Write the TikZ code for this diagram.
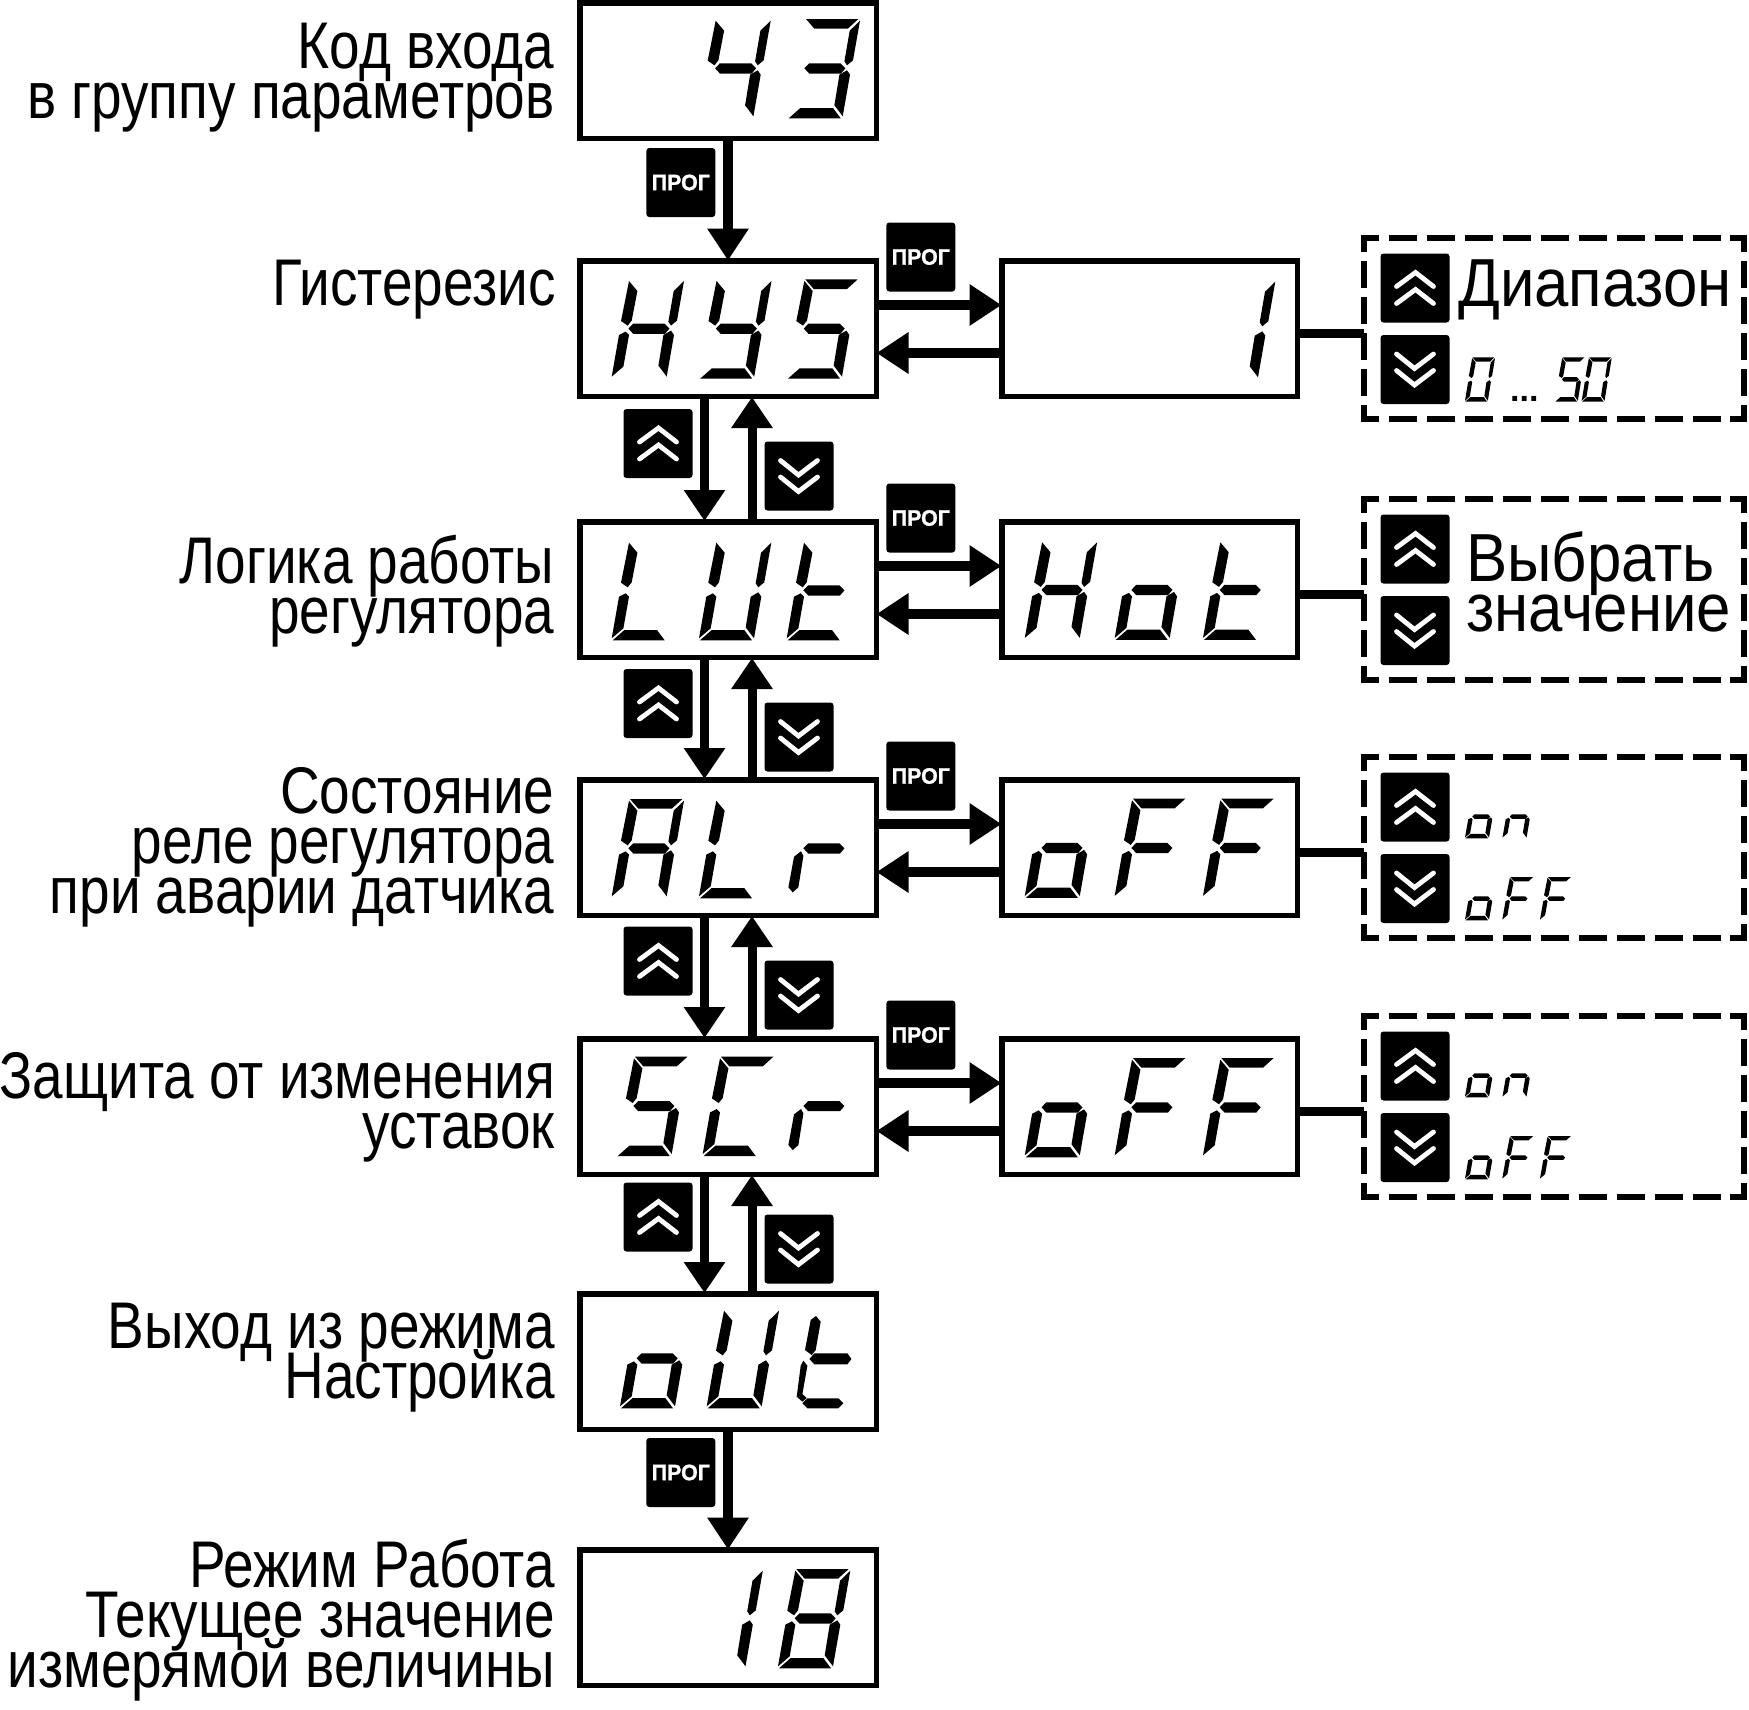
\documentclass[tikz,border=0pt]{standalone}
\usepackage{fontspec}
\usetikzlibrary{arrows.meta,calc}
\setmainfont{Liberation Sans}
\newfontfamily\labf[FakeStretch=0.832]{Liberation Sans}
\newfontfamily\rlabf[FakeStretch=0.908]{Liberation Sans}
\newfontfamily\progf[FakeStretch=0.96,FakeBold=1.2]{Liberation Sans Bold}
\newcommand\labfont{\labf\fontsize{66}{50}\selectfont}
\newcommand\rlabfont{\rlabf\fontsize{68}{50.6}\selectfont}
\lineskiplimit=-200pt
\normallineskiplimit=-200pt
% seven-segment shapes, local units: glyph cell about 72 x 99
\newcommand\segA{\fill (18.3,0)--(70.7,0)--(60,9.7)--(26.7,9.7)--cycle;}
\newcommand\segB{\fill (72.3,1.7)--(62,11.7)--(56.7,42.3)--(59.3,46.3)--(65.3,41.3)--cycle;}
\newcommand\segC{\fill (59.3,51.3)--(62.3,55.7)--(55,97.3)--(46.7,86.3)--(51.7,55.7)--cycle;}
\newcommand\segD{\fill (1,99.3)--(12.7,89)--(45.3,89)--(53,99.3)--cycle;}
\newcommand\segE{\fill (14,52.3)--(17.3,55.7)--(11.7,87.3)--(0,97.3)--(7.3,55.7)--cycle;}
\newcommand\segF{\fill (17.3,1.7)--(25.7,11.7)--(20,41.3)--(16,46.3)--(9.3,41.7)--cycle;}
\newcommand\segG{\fill (16.7,49.3)--(21.5,44.3)--(52.7,44.3)--(57.7,49.3)--(53.3,54.5)--(21.5,54.5)--cycle;}
% chamfered forms used by r and by the t of oUt
\newcommand\segEr{\fill (14.3,52.3)--(16.7,56.7)--(11.7,88.3)--(6,93.3)--(1.7,88.3)--(7.3,57.7)--cycle;}
\newcommand\segFt{\fill (19.3,7)--(24,12.7)--(19,41)--(15,46)--(8.3,41)--(14,11)--cycle;}
\newcommand\segGt{\fill (12.7,50)--(17.7,44.3)--(50.7,44.3)--(54.7,50)--(50.7,55.3)--(17.7,55.3)--cycle;}
\newcommand\segEt{\fill (6.7,51.7)--(10.7,56.7)--(5.7,85)--(10,89)--(5.7,92.7)--(0,87.7)--(4,56.7)--cycle;}
\newcommand\segDt{\fill (5.7,94.3)--(10.7,89.3)--(41.7,89.3)--(46.7,94.3)--(41.7,99.3)--(10.7,99.3)--cycle;}
\newcommand\glyph[3]{\begin{scope}[shift={(#1,#2)}]#3\end{scope}}
\newcommand\sglyph[5]{\begin{scope}[shift={(#1,#2)},xscale=#3,yscale=#4]#5\end{scope}}
\newcommand\glO{\segE\segC\segG\segD}
\newcommand\glFF{\segA\segF\segG\segE}
\newcommand\glH{\segF\segB\segG\segE\segC}
\newcommand\glS{\segA\segF\segG\segC\segD}
\newcommand\glT{\segF\segE\segG\segD}
\newcommand\glL{\segF\segE\segD}
\newcommand\glU{\segF\segB\segE\segC\segD}
\newcommand\glR{\segEr\segG}
\newcommand\glN{\segE\segC\segG}
\newcommand\glZero{\segA\segB\segC\segD\segE\segF}
\tikzset{
  mainbox/.style={draw,line width=5.5pt,rectangle,minimum width=296.5pt,minimum height=135.5pt,inner sep=0pt},
  valbox/.style={draw,line width=5.5pt,rectangle,minimum width=295.5pt,minimum height=135.5pt,inner sep=0pt},
  dbox/.style={rectangle,minimum width=380pt,minimum height=181pt,inner sep=0pt,outer sep=0pt},
  dashline/.style={line width=5.3pt,miter limit=10},
  hdash/.style={dashline,dash pattern=on 27.7pt off 10.3pt},
  vdash/.style={dashline,dash pattern=on 27pt off 9pt},
  btn/.style={fill=black,rounded corners=3pt,minimum size=69pt,inner sep=0pt,outer sep=0pt,rectangle,text=white},
  progbtn/.style={btn,font=\progf\fontsize{22.3}{24}\selectfont},
  chev/.style={draw=white,line width=4.8pt,line cap=round,line join=miter},
  flow/.style={line width=10pt,shorten >=-2.5pt,-{Triangle[length=32pt,width=39.5pt]}},
  updown/.style={line width=9pt,shorten >=-2pt,-{Triangle[length=31pt,width=39.5pt]}},
  wire/.style={line width=9pt},
  lab/.style={font=\labfont,align=right,anchor=base east,inner sep=0pt},
  rlab/.style={font=\rlabfont,align=left,anchor=base west,inner sep=0pt}
}
\newcommand\progtxt{\raisebox{-2.5pt}{ПРОГ}}
\newcommand\chevup[1]{%
  \draw[chev] ($(#1)+(-18.5,-1.5)$)--($(#1)+(0.5,-15.5)$)--($(#1)+(18.5,-1.5)$);
  \draw[chev] ($(#1)+(-18.5,15.5)$)--($(#1)+(0.5,1.5)$)--($(#1)+(18.5,15.5)$);}
\newcommand\chevdn[1]{%
  \draw[chev] ($(#1)+(-18.5,-15.5)$)--($(#1)+(-0.5,-1)$)--($(#1)+(18.5,-15.5)$);
  \draw[chev] ($(#1)+(-18.5,1)$)--($(#1)+(-0.5,15.5)$)--($(#1)+(18.5,1)$);}
\begin{document}
\begin{tikzpicture}[x=1pt,y=-1pt]
\useasboundingbox (0,0) rectangle (1749,1709);
% main column
\foreach \i/\t in {1/0,2/258,3/519,4/777,5/1036,6/1291,7/1547}
  \node[mainbox] (m\i) at (728,\t+70.5) {};
% value boxes and their dashed panels
\foreach \i/\t/\d in {1/258/235,2/519/496,3/777/754,4/1036/1013}{
  \node[valbox] (v\i) at (1149.5,\t+70.5) {};
  \node[dbox] (d\i) at (1554,\d+93.5) {};
  \node[progbtn] (p\i) at (920.8,\t-1) {\progtxt};
  \node[btn] (du\i) at (1415,\d+53) {};
  \node[btn] (dd\i) at (1415,\d+134.5) {};
  \chevup{du\i}
  \chevdn{dd\i}
}
\foreach \i in {1,...,4}{
  % dashed outline
  \draw[dashline] ($(d\i.north west)+(0,14)$)--(d\i.north west)--($(d\i.north west)+(14.5,0)$);
  \draw[dashline] ($(d\i.north east)+(0,14)$)--(d\i.north east)--($(d\i.north east)+(-14.5,0)$);
  \draw[dashline] ($(d\i.south west)+(0,-14)$)--(d\i.south west)--($(d\i.south west)+(14.5,0)$);
  \draw[dashline] ($(d\i.south east)+(0,-14)$)--(d\i.south east)--($(d\i.south east)+(-14.5,0)$);
  \draw[hdash] ($(d\i.north west)+(24.8,0)$)--($(d\i.north east)+(-22,0)$);
  \draw[hdash] ($(d\i.south west)+(24.8,0)$)--($(d\i.south east)+(-22,0)$);
  \draw[vdash] ($(d\i.north west)+(0,23)$)--($(d\i.south west)+(0,-20)$);
  \draw[vdash] ($(d\i.north east)+(0,23)$)--($(d\i.south east)+(0,-20)$);
  % connectors
  \coordinate (w\i) at ([yshift=-4.5pt]v\i.east);
  \draw[wire] (w\i)--(w\i -| d\i.west);
}
\foreach \a/\b in {2/1,3/2,4/3,5/4}{
  \draw[flow] ([yshift=23.5pt]m\a.east)--([yshift=23.5pt]v\b.west);
  \draw[flow] ([yshift=-24.5pt]v\b.west)--([yshift=-24.5pt]m\a.east);
}
\draw[flow] (m1.south)--(m2.north);
\draw[flow] (m6.south)--(m7.north);
\foreach \a/\b/\u/\v in {2/3/443.5/476,3/4/703.5/737,4/5/961/995,5/6/1217/1249}{
  \draw[updown] ([xshift=-23.5pt]m\a.south)--([xshift=-23.5pt]m\b.north);
  \draw[updown] ([xshift=24pt]m\b.north)--([xshift=24pt]m\a.south);
  \node[btn] (bu\a) at (658,\u) {};
  \node[btn] (bd\a) at (799,\v) {};
  \chevup{bu\a}
  \chevdn{bd\a}
}
\node[progbtn] (pa) at (680.8,182.5) {\progtxt};
\node[progbtn] (pb) at (680.8,1472.5) {\progtxt};
% glyphs in the main column
\glyph{698.4}{19}{\segF\segB\segG\segC}
\glyph{787.7}{19}{\segA\segB\segG\segC\segD}
\glyph{611.7}{279.3}{\glH}
\glyph{699.2}{279.3}{\segF\segB\segG\segC\segD}
\glyph{787}{279.3}{\glS}
\glyph{611.7}{541}{\glL}
\glyph{699}{541}{\glU}
\glyph{786.7}{541}{\glT}
\glyph{611.7}{799}{\segA\segB\segC\segE\segF\segG}
\glyph{699}{799}{\glL}
\glyph{786.7}{799}{\glR}
\glyph{616.7}{1056.7}{\glS}
\glyph{702.7}{1056.7}{\segA\segF\segE\segD}
\glyph{786.7}{1056.7}{\glR}
\glyph{620}{1309}{\glO}
\glyph{706.7}{1309}{\glU}
\glyph{796.7}{1309}{\segFt\segGt\segEt\segDt}
\glyph{690.5}{1569}{\segB\segC}
\glyph{778}{1569}{\segA\segB\segC\segD\segE\segF\segG}
% glyphs in the value boxes
\glyph{1203}{280}{\segB\segC}
\glyph{1024.8}{540.6}{\glH}
\glyph{1114.7}{540.6}{\glO}
\glyph{1203}{540.6}{\glT}
\foreach \y in {798.6,1058}{
  \glyph{1024.8}{\y}{\glO}
  \glyph{1114.7}{\y}{\glFF}
  \glyph{1203}{\y}{\glFF}
}
% small glyphs in the panels
\sglyph{1465}{357.3}{0.415}{0.447}{\glZero}
\sglyph{1555}{357.3}{0.415}{0.447}{\glS}
\sglyph{1581.7}{357.3}{0.415}{0.447}{\glZero}
\node[font=\bfseries\fontsize{34}{36}\selectfont,anchor=base west,inner sep=0pt] (dots) at (1510,401.7) {...};
\foreach \d in {754,1013}{
  \sglyph{1465}{\d+41}{0.437}{0.437}{\glO}
  \sglyph{1502.5}{\d+41}{0.437}{0.437}{\glN}
  \sglyph{1465}{\d+123}{0.437}{0.437}{\glO}
  \sglyph{1502.3}{\d+123}{0.437}{0.437}{\glFF}
  \sglyph{1540}{\d+123}{0.437}{0.437}{\glFF}
}
% labels
\node[lab] (l1) at (554.5,118) {Код входа\\в группу параметров};
\node[lab] (l2) at (556,305) {Гистерезис};
\node[lab] (l3) at (554.5,633) {Логика работы\\регулятора};
\node[lab] (l4) at (554.5,913) {Состояние\\реле регулятора\\при аварии датчика};
\node[lab] (l5) at (555,1148) {Защита от изменения\\уставок};
\node[lab] (l6) at (555,1398) {Выход из режима\\Настройка};
\node[lab] (l7) at (555,1687.5) {Режим Работа\\Текущее значение\\измерямой величины};
\node[rlab] (t1) at (1458,306.7) {Диапазон};
\node[rlab] (t2) at (1466,631.7) {Выбрать\\значение};
\end{tikzpicture}
\end{document}
